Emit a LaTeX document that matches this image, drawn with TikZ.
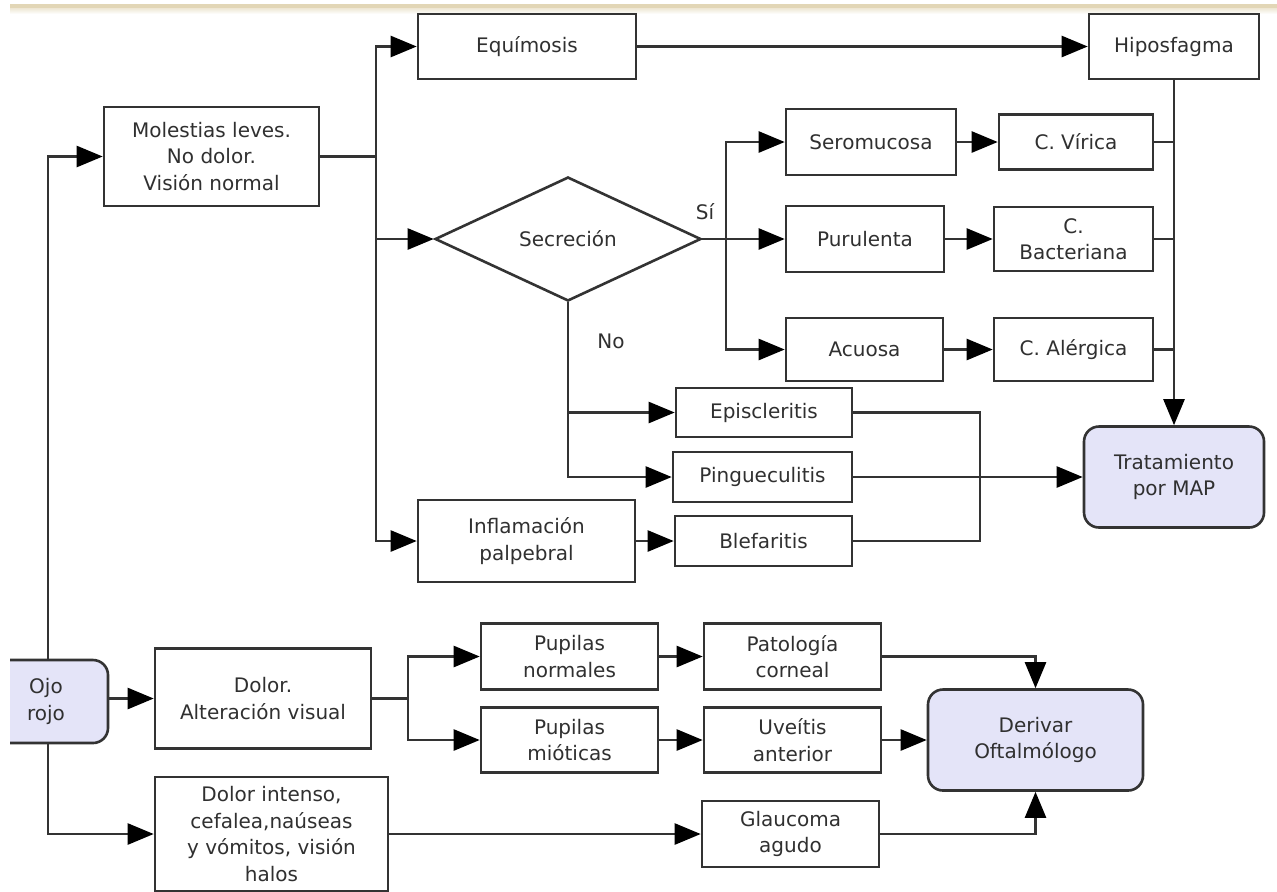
\documentclass[tikz,border=0pt]{standalone}
\usepackage{fontspec}
\setmainfont{DejaVu Sans}
\usetikzlibrary{arrows.meta,shapes.geometric}
\definecolor{linec}{HTML}{333333}
\definecolor{textc}{HTML}{303030}
\definecolor{lav}{HTML}{E4E4F8}
\definecolor{tan}{HTML}{E2D6B6}
\begin{document}
\begin{tikzpicture}[x=0.5pt,y=-0.5pt,
  wh/.style n args={2}{minimum width=#1*0.5pt,minimum height=#2*0.5pt},
  box/.style={draw=linec,line width=1.3pt,fill=white,align=center,inner sep=0pt,
    text=textc,font=\fontsize{10pt}{13.2pt}\selectfont},
  rbox/.style={box,rounded corners=7.5pt,fill=lav},
  dia/.style={box,diamond,aspect=2.145},
  conn/.style={draw=linec,line width=1.25pt},
  arr/.style={conn,-{Triangle[length=13pt,width=10.5pt,color=black]}},
  lbl/.style={text=textc,font=\fontsize{10pt}{12pt}\selectfont,inner sep=0pt}]
\useasboundingbox (0,0) rectangle (1277,891);
\fill[white] (0,0) rectangle (1277,891);
\shade[top color=tan,bottom color=white] (10,4) rectangle (1277,14);
\fill[tan] (10,4) rectangle (1277,8);

% nodes
\node[box,wh={218}{65}] (equ) at (527,46.5) {Equímosis};
\node[box,wh={170}{65}] (hip) at (1174,46.5) {Hiposfagma};
\node[box,wh={215}{99}] (mol) at (211.5,156.5) {Molestias leves.\\No dolor.\\Visión normal};
\node[dia,wh={266}{124}] (sec) at (568,239) {Secreción};
\node[box,wh={170}{66}] (ser) at (871,142) {Seromucosa};
\node[box,wh={154}{55}] (vir) at (1076,142) {C. Vírica};
\node[box,wh={158}{66}] (pur) at (865,239) {Purulenta};
\node[box,wh={159}{64}] (bac) at (1073.5,239) {C.\\Bacteriana};
\node[box,wh={157}{63}] (acu) at (864.5,349.5) {Acuosa};
\node[box,wh={159}{63}] (ale) at (1073.5,349.5) {C. Alérgica};
\node[box,wh={176}{49}] (epi) at (764,412.5) {Episcleritis};
\node[box,wh={179}{50}] (pin) at (762.5,477) {Pingueculitis};
\node[box,wh={177}{50}] (ble) at (763.5,541) {Blefaritis};
\node[box,wh={217}{82}] (inf) at (526.5,541) {Inflamación\\palpebral};
\node[rbox,wh={180}{101}] (tra) at (1174,477) {Tratamiento\\por MAP};
\node[rbox,wh={138}{83}] (ojo) at (39,701.5) {\hspace*{7pt}Ojo\\\hspace*{7pt}rojo};
\fill[white] (-40,640) rectangle (10,760);
\node[box,wh={216}{100}] (dol) at (263,698.5) {Dolor.\\Alteración visual};
\node[box,wh={177}{66}] (pn) at (569.5,656.5) {Pupilas\\normales};
\node[box,wh={177}{65}] (pm) at (569.5,740) {Pupilas\\mióticas};
\node[box,wh={177}{66}] (pat) at (792.5,656.5) {Patología\\corneal};
\node[box,wh={177}{65}] (uve) at (792.5,740) {Uveítis\\anterior};
\node[box,wh={177}{66}] (gla) at (790.5,834) {Glaucoma\\agudo};
\node[rbox,wh={215}{101}] (der) at (1035.5,740) {Derivar\\Oftalmólogo};
\node[box,wh={233}{114}] (din) at (271.5,834) {Dolor intenso,\\cefalea,naúseas\\y vómitos, visión\\halos};

% labels
\node[lbl] (si) at (705,212) {Sí};
\node[lbl] (no) at (611,341) {No};

% bus coordinates
\coordinate (b1) at (48,0);
\coordinate (b2) at (376,156.5);
\coordinate (b3) at (726,239);
\coordinate (b4) at (980,0);
\coordinate (b5) at (408,698.5);

% connectors
\draw[arr] (ojo.north -| b1) |- (mol.west);
\draw[arr] (ojo.south -| b1) |- (din.west);
\draw[conn] (mol.east) -- (b2);
\draw[arr] (b2) |- (equ.west);
\draw[arr] (b2) |- (sec.west);
\draw[arr] (b2) |- (inf.west);
\draw[arr] (equ.east) -- (hip.west);
\draw[conn] (sec.east) -- (b3);
\draw[arr] (b3) |- (ser.west);
\draw[arr] (b3) -- (pur.west);
\draw[arr] (b3) |- (acu.west);
\draw[arr] (ser.east) -- (vir.west);
\draw[arr] (pur.east) -- (bac.west);
\draw[arr] (acu.east) -- (ale.west);
\draw[arr] (hip.south) -- (tra.north);
\draw[conn] (vir.east) -- (vir.east -| hip.south);
\draw[conn] (bac.east) -- (bac.east -| hip.south);
\draw[conn] (ale.east) -- (ale.east -| hip.south);
\draw[arr] (sec.south) |- (pin.west);
\draw[arr] (sec.south |- epi.west) -- (epi.west);
\draw[arr] (inf.east) -- (ble.west);
\draw[conn] (epi.east) -- (epi.east -| b4) -- (ble.east -| b4) -- (ble.east);
\draw[arr] (pin.east) -- (tra.west);
\draw[arr] (ojo.east |- dol.west) -- (dol.west);
\draw[conn] (dol.east) -- (b5);
\draw[arr] (b5) |- (pn.west);
\draw[arr] (b5) |- (pm.west);
\draw[arr] (pn.east) -- (pat.west);
\draw[arr] (pm.east) -- (uve.west);
\draw[arr] (pat.east) -| (der.north);
\draw[arr] (uve.east) -- (der.west);
\draw[arr] (din.east) -- (gla.west);
\draw[arr] (gla.east) -| (der.south);
\end{tikzpicture}
\end{document}
